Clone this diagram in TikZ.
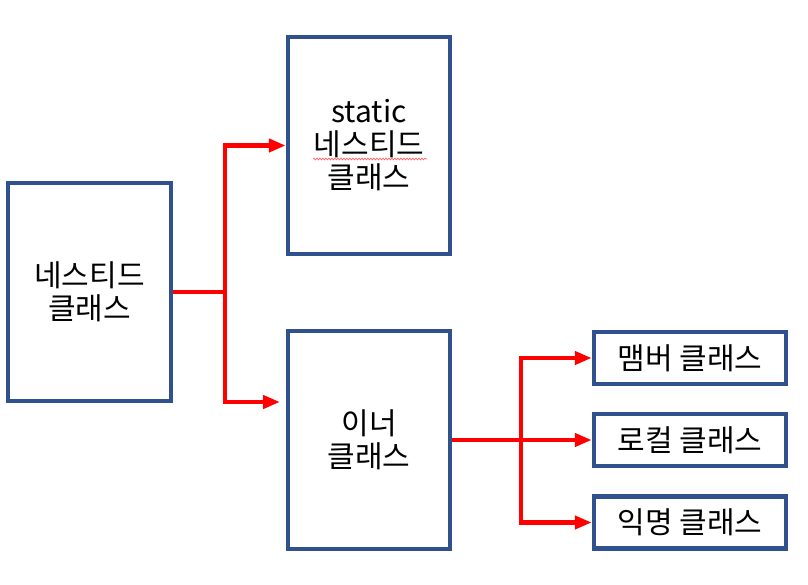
\documentclass[tikz,border=0pt]{standalone}
\usepackage{fontspec}
\setmainfont{Noto Sans CJK KR}
\usetikzlibrary{arrows.meta,decorations.pathmorphing}
\definecolor{boxblue}{RGB}{47,82,143}
\tikzset{
  box/.style={draw=boxblue, line width=4.5pt, fill=white, inner sep=0pt, outer sep=2.25pt,
    align=center, font=\fontsize{30}{33}\selectfont},
  conn/.style={draw=red, line width=4.3pt},
  arr/.style={conn, -{Triangle[length=17pt,width=13pt]}},
}
\begin{document}
\begin{tikzpicture}[x=1pt,y=-1pt]
\useasboundingbox (0,0) rectangle (808,584);
\node[box, minimum width=163pt, minimum height=218pt] (L) at (89.5,292) {네스티드\\클래스};
\node[box, minimum width=162pt, minimum height=217pt] (S) at (369,145.5) {static\\네스티드\\클래스};
\node[box, minimum width=162pt, minimum height=218pt] (I) at (369,440) {이너\\클래스};
\node[box, minimum width=192pt, minimum height=52pt] (M) at (690,358) {맴버 클래스};
\node[box, minimum width=192pt, minimum height=52pt] (Lo) at (690,440) {로컬 클래스};
\node[box, minimum width=192pt, minimum height=52pt] (A) at (690,522.5) {익명 클래스};
\coordinate (j1) at (225,292);
\coordinate (e2) at (280,402);
\coordinate (j2) at (521,440);
\draw[conn] (L.east) -- (j1);
\draw[arr] (j1) |- (S.west);
\draw[arr] (j1) |- (e2);
\draw[arr] (I.east) -- (Lo.west);
\draw[arr] (j2) |- (M.west);
\draw[arr] (j2) |- (A.west);
\draw[red!60, line width=0.7pt, decorate, decoration={snake, segment length=3pt, amplitude=0.9pt}] (313,159) -- (427,159);
\end{tikzpicture}
\end{document}
